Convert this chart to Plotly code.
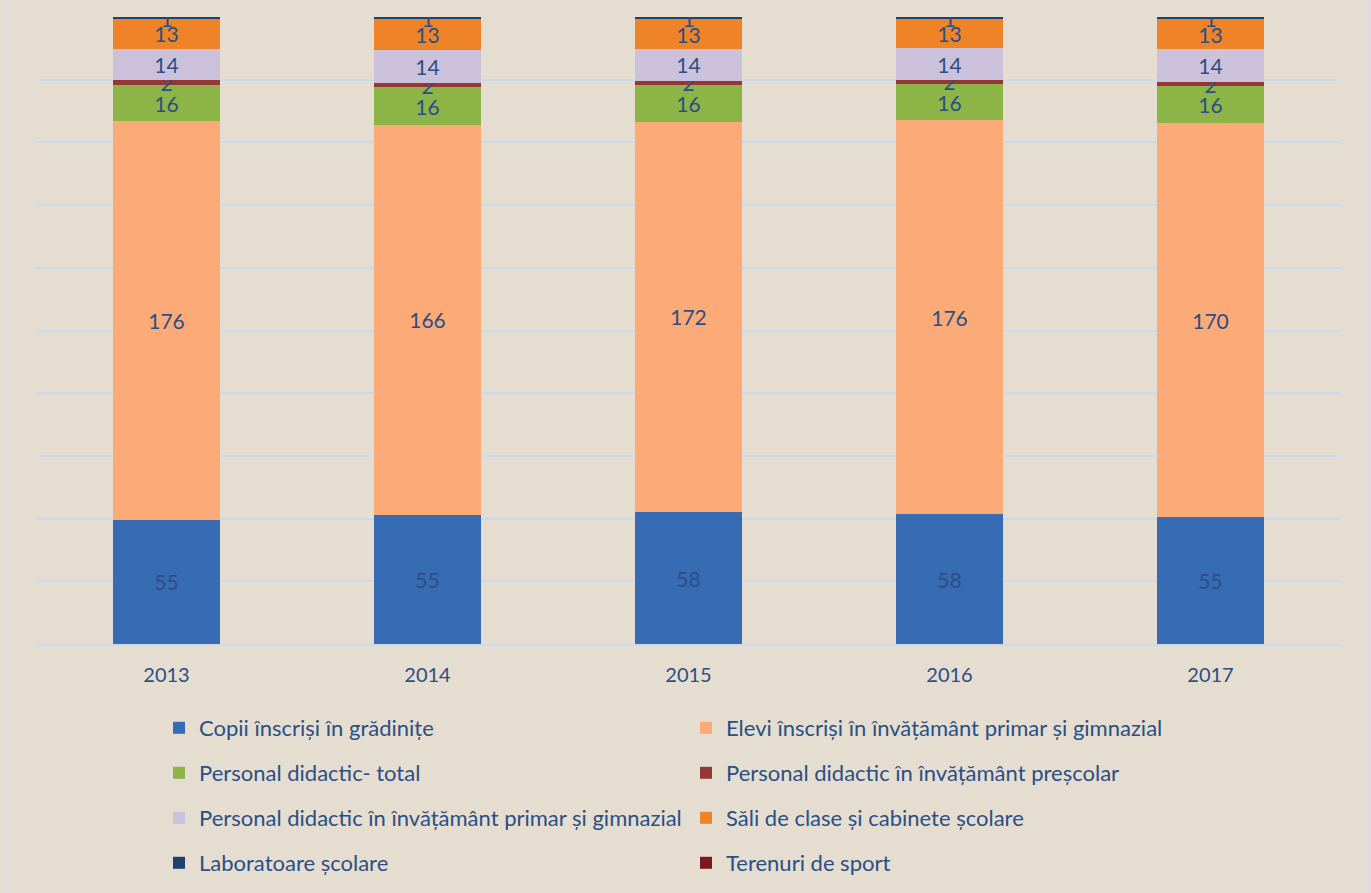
import plotly.graph_objects as go

years = ["2013", "2014", "2015", "2016", "2017"]
series_names = [
    "Copii înscriși în grădinițe",
    "Elevi înscriși în învățământ primar și gimnazial",
    "Personal didactic- total",
    "Personal didactic în învățământ preșcolar",
    "Personal didactic în învățământ primar și gimnazial",
    "Săli de clase și cabinete școlare",
    "Laboratoare școlare",
    "Terenuri de sport",
]
copii = [55, 55, 58, 58, 55]
elevi = [176, 166, 172, 176, 170]
pers_total = [16, 16, 16, 16, 16]
pers_prescolar = [2, 2, 2, 2, 2]
pers_primar = [14, 14, 14, 14, 14]
sali = [13, 13, 13, 13, 13]
laboratoare = [1, 1, 1, 1, 1]
terenuri = [0, 0, 0, 0, 0]

series_values = [copii, elevi, pers_total, pers_prescolar, pers_primar, sali, laboratoare, terenuri]
colors = ["#376bb3", "#fcaa78", "#8cb446", "#953735", "#ccc1da", "#ee8327", "#1f3f6e", "#7a1a1a"]

FONT = "Lato"
TXT = "#2a4f86"
BG = "#e5ddd0"

fig = go.Figure()
legend_ids = ["legend", "legend", "legend2", "legend2", "legend3", "legend3", "legend4", "legend4"]
for name, vals, col, lg in zip(series_names, series_values, colors, legend_ids):
    fig.add_trace(go.Bar(
        x=years, y=vals, name=name,
        marker=dict(color=col, line=dict(width=0)),
        text=vals, texttemplate="%{text}",
        textposition="inside", insidetextanchor="middle", textangle=0,
        textfont=dict(family=FONT, size=21, color=TXT),
        legend=lg,
    ))

row_y = [728, 773, 818, 863]
H, W = 893, 1371
leg_common = dict(
    orientation="h", xanchor="left", yanchor="middle",
    xref="container", yref="container",
    x=159 / W, bgcolor="rgba(0,0,0,0)",
    font=dict(family=FONT, size=22, color=TXT),
    entrywidth=482, entrywidthmode="pixels",
    traceorder="normal",
)

fig.update_layout(
    width=W, height=H,
    barmode="stack", barnorm="percent", bargap=0.59,
    paper_bgcolor=BG, plot_bgcolor=BG,
    margin=dict(l=36, r=30, t=17, b=249),
    showlegend=True,
    uniformtext=dict(mode="show", minsize=21),
    xaxis=dict(
        showgrid=False, showline=True, linecolor="#c9d9ee", linewidth=2,
        ticks="", tickfont=dict(family=FONT, size=20, color=TXT),
        ticklabelstandoff=12,
    ),
    yaxis=dict(
        range=[0, 100], dtick=10, showticklabels=False,
        gridcolor="#c9d9ee", gridwidth=2, zeroline=False,
    ),
    legend=dict(leg_common, y=1 - row_y[0] / H),
    legend2=dict(leg_common, y=1 - row_y[1] / H),
    legend3=dict(leg_common, y=1 - row_y[2] / H),
    legend4=dict(leg_common, y=1 - row_y[3] / H),
    shapes=[dict(type="rect", xref="paper", yref="paper",
                 x0=(7 - 36) / 1305, x1=(1369 - 36) / 1305,
                 y0=-(897 - 644) / 627, y1=1 + 21 / 627,
                 line=dict(color="#d3dff0", width=2), layer="below")],
)

fig.write_html("out.html", config={"displayModeBar": False},
               post_script="document.body.style.margin='0';")
